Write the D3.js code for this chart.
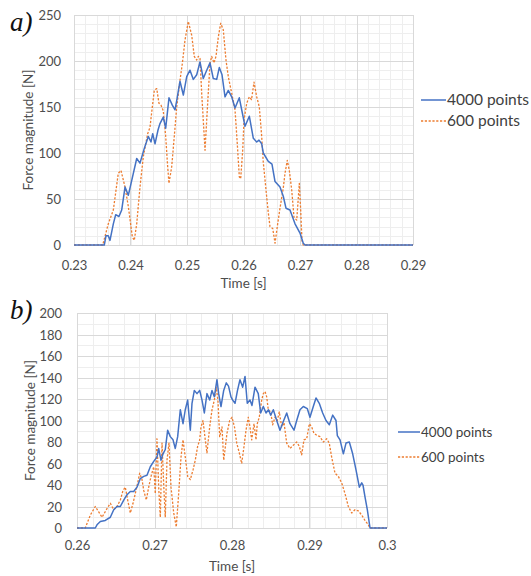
<!DOCTYPE html>
<html>
<head>
<meta charset="utf-8">
<script src="https://cdn.jsdelivr.net/npm/d3@7/dist/d3.min.js"></script>
<style>
  html, body { margin: 0; padding: 0; background: #fff; }
  svg { display: block; }
  .tick-label { font-family: Lato, "Open Sans", sans-serif; font-size: 13px; fill: #4d4d4d; }
  .axis-title { font-family: Lato, "Open Sans", sans-serif; font-size: 13.5px; fill: #4d4d4d; }
  .legend-text { font-family: Lato, "Open Sans", sans-serif; fill: #404040; }
  .panel-tag { font-family: "Liberation Serif", "DejaVu Serif", serif; font-style: italic; font-size: 27px; fill: #111; }
</style>
</head>
<body>
<svg id="chart" width="531" height="576"></svg>
<script>
// ---- Panel a): contact force, time [s] vs force [N] ----
const seriesNames = ["4000 points", "600 points"];

const aFine = [
  [0.23,0],[0.23536,0],[0.23566,10],[0.23607,10],[0.23637,5],[0.23696,23],[0.23738,33],
  [0.23796,31],[0.23844,38],[0.23903,63],[0.23961,54],[0.24021,70],[0.2411,94],[0.24168,89],
  [0.24244,105],[0.24315,118],[0.24363,112],[0.24393,121],[0.24434,110],[0.24487,125],
  [0.24522,132],[0.2458,139],[0.24623,127],[0.24681,160],[0.2474,152],[0.24788,147],
  [0.24818,157],[0.24876,178],[0.24935,163],[0.24995,183],[0.25053,190],[0.25112,180],
  [0.25172,185],[0.2523,199],[0.25288,181],[0.25349,190],[0.25407,198],[0.25465,181],
  [0.25526,180],[0.25572,193],[0.2562,185],[0.25673,161],[0.25731,168],[0.25791,161],
  [0.2585,149],[0.25926,160],[0.25968,147],[0.26027,129],[0.26103,140],[0.26174,116],
  [0.26234,112],[0.26274,114],[0.26322,110],[0.2635,100],[0.26439,91],[0.26504,88],
  [0.26558,69],[0.26646,63],[0.26704,53],[0.26752,40],[0.26823,38],[0.26912,23],
  [0.27,13],[0.27058,2],[0.27088,0],[0.29,0]
];

const aCoarse = [
  [0.23,0],[0.23508,0],[0.23607,23],[0.23696,38],[0.23784,78],[0.23832,81],[0.23903,63],
  [0.23961,42],[0.24032,9],[0.24067,5],[0.2411,23],[0.24168,63],[0.24227,96],[0.24269,110],
  [0.24304,121],[0.24345,128],[0.24386,150],[0.24421,168],[0.24464,170],[0.24504,154],
  [0.2454,152],[0.2458,146],[0.24623,118],[0.24658,85],[0.24681,67],[0.24729,85],
  [0.24775,118],[0.24818,150],[0.24876,179],[0.24917,197],[0.24965,223],[0.25023,243],
  [0.25083,228],[0.25129,205],[0.25172,201],[0.252,205],[0.2523,203],[0.2526,165],
  [0.25319,103],[0.25359,147],[0.25407,197],[0.25437,205],[0.25478,198],[0.25513,205],
  [0.25554,226],[0.25596,241],[0.25642,234],[0.2569,201],[0.25731,183],[0.25791,165],
  [0.2585,147],[0.2589,110],[0.25926,74],[0.2595,72],[0.25986,103],[0.26009,136],
  [0.26057,154],[0.26103,161],[0.26142,158],[0.26186,177],[0.26234,161],[0.2628,150],
  [0.26322,118],[0.2635,90],[0.26411,52],[0.26439,35],[0.26469,20],[0.26517,18],
  [0.26558,2],[0.26598,20],[0.26646,40],[0.26704,62],[0.26735,78],[0.26775,92],
  [0.26811,81],[0.26853,60],[0.26894,30],[0.26942,27],[0.26988,67],[0.27012,38],
  [0.27035,5],[0.27058,0],[0.29,0]
];

const aTimeTicks = [0.23, 0.24, 0.25, 0.26, 0.27, 0.28, 0.29];
const aForceTicks = [0, 50, 100, 150, 200, 250];

// ---- Panel b) ----
const bFine = [
  [0.26,0],[0.26236,0],[0.26258,3],[0.26301,6],[0.26365,7],[0.2643,10],[0.26474,17],
  [0.26516,20],[0.26559,20],[0.26603,26],[0.26645,31],[0.26688,34],[0.26732,34],
  [0.26774,38],[0.26817,46],[0.26861,48],[0.26903,49],[0.26946,57],[0.2699,62],
  [0.27032,66],[0.27054,74],[0.27084,63],[0.2711,69],[0.27139,73],[0.2717,91],
  [0.27204,85],[0.27239,82],[0.27268,74],[0.27299,85],[0.27333,110],[0.27368,97],
  [0.27397,110],[0.27428,119],[0.27462,91],[0.27484,116],[0.27514,128],[0.27548,125],
  [0.27583,128],[0.27613,119],[0.27643,107],[0.27677,125],[0.27712,119],[0.27742,128],
  [0.27772,122],[0.27806,138],[0.27828,125],[0.27858,113],[0.27893,128],[0.27926,135],
  [0.27955,132],[0.27987,122],[0.28009,119],[0.28039,116],[0.28071,128],[0.28103,138],
  [0.28138,131],[0.28168,141],[0.28197,116],[0.28232,119],[0.28258,114],[0.28297,131],
  [0.28339,125],[0.2837,107],[0.28404,113],[0.28439,107],[0.28471,110],[0.28499,105],
  [0.28533,110],[0.28577,100],[0.28619,91],[0.28662,99],[0.28706,107],[0.28748,97],
  [0.288,91],[0.28835,100],[0.28877,110],[0.2892,113],[0.28972,111],[0.29006,103],
  [0.29049,113],[0.29084,121],[0.29126,116],[0.2917,107],[0.29213,100],[0.29256,96],
  [0.29299,105],[0.29342,100],[0.29359,86],[0.29394,82],[0.29437,69],[0.29471,79],
  [0.29514,80],[0.29557,69],[0.296,54],[0.29643,38],[0.29674,42],[0.2969,40],
  [0.29716,29],[0.29746,17],[0.29781,0],[0.3,0]
];

const bCoarse = [
  [0.26,0],[0.26107,0],[0.26172,12],[0.26236,20],[0.2628,15],[0.26323,10],[0.26387,18],
  [0.2643,23],[0.26474,17],[0.26516,20],[0.26559,26],[0.26594,35],[0.26623,38],
  [0.26654,26],[0.26688,14],[0.26723,23],[0.26752,32],[0.26783,42],[0.26809,51],
  [0.26839,45],[0.26861,35],[0.26894,26],[0.26925,38],[0.26955,48],[0.2699,57],
  [0.2701,32],[0.27032,83],[0.27054,38],[0.27075,10],[0.27097,79],[0.27119,40],
  [0.27139,10],[0.27161,63],[0.27187,79],[0.27213,38],[0.27248,14],[0.27281,1],
  [0.27312,32],[0.27342,66],[0.27368,82],[0.27397,66],[0.27428,48],[0.27462,45],
  [0.27497,54],[0.27526,63],[0.27557,76],[0.27583,82],[0.276,94],[0.27626,100],
  [0.27655,82],[0.27677,70],[0.27712,94],[0.27742,110],[0.27772,119],[0.27797,131],
  [0.27819,118],[0.27841,85],[0.27871,94],[0.27893,63],[0.27935,88],[0.2797,100],
  [0.28,103],[0.28032,94],[0.28061,79],[0.28094,70],[0.28125,60],[0.28155,76],
  [0.28181,91],[0.2821,103],[0.28232,94],[0.28254,82],[0.28284,97],[0.2831,82],
  [0.28326,97],[0.28352,103],[0.28383,119],[0.28404,125],[0.28426,127],[0.28448,122],
  [0.28468,110],[0.28499,108],[0.28525,96],[0.28555,103],[0.28585,100],[0.2861,108],
  [0.28641,94],[0.28671,98],[0.28706,79],[0.28748,74],[0.28791,77],[0.28835,80],
  [0.28869,76],[0.28899,68],[0.28929,82],[0.28964,83],[0.28998,97],[0.29028,94],
  [0.29058,88],[0.29101,86],[0.29135,85],[0.29178,80],[0.29222,83],[0.29255,79],
  [0.29286,66],[0.29329,51],[0.29372,48],[0.29415,42],[0.29458,32],[0.29501,20],
  [0.29545,14],[0.29587,17],[0.2963,16],[0.29674,12],[0.29716,7],[0.29759,3],
  [0.29781,0],[0.3,0]
];

const bTimeTicks = [0.26, 0.27, 0.28, 0.29, 0.30];
const bForceTicks = [0, 20, 40, 60, 80, 100, 120, 140, 160, 180, 200];

const BLUE = "#4472c4";
const ORANGE = "#ed7d31";

const svg = d3.select("#chart");

function drawPanel(cfg) {
  const x = d3.scaleLinear().domain(cfg.xDomain).range([cfg.left, cfg.right]);
  const y = d3.scaleLinear().domain(cfg.yDomain).range([cfg.bottom, cfg.top]);
  const g = svg.append("g");

  // minor grid
  const xMinor = d3.range(cfg.xDomain[0], cfg.xDomain[1] + 1e-9, cfg.xMinorStep);
  const yMinor = d3.range(cfg.yDomain[0], cfg.yDomain[1] + 1e-9, cfg.yMinorStep);
  g.append("g").selectAll("line").data(xMinor).join("line")
    .attr("x1", d => Math.round(x(d)) + 0.5).attr("x2", d => Math.round(x(d)) + 0.5)
    .attr("y1", cfg.top).attr("y2", cfg.bottom)
    .attr("stroke", "#eeeeee").attr("stroke-width", 1);
  g.append("g").selectAll("line").data(yMinor).join("line")
    .attr("y1", d => Math.round(y(d)) + 0.5).attr("y2", d => Math.round(y(d)) + 0.5)
    .attr("x1", cfg.left).attr("x2", cfg.right)
    .attr("stroke", "#eeeeee").attr("stroke-width", 1);

  // major grid
  g.append("g").selectAll("line").data(cfg.xTicks).join("line")
    .attr("x1", d => Math.round(x(d)) + 0.5).attr("x2", d => Math.round(x(d)) + 0.5)
    .attr("y1", cfg.top).attr("y2", cfg.bottom)
    .attr("stroke", "#d9d9d9").attr("stroke-width", 1);
  g.append("g").selectAll("line").data(cfg.yTicks).join("line")
    .attr("y1", d => Math.round(y(d)) + 0.5).attr("y2", d => Math.round(y(d)) + 0.5)
    .attr("x1", cfg.left).attr("x2", cfg.right)
    .attr("stroke", "#d9d9d9").attr("stroke-width", 1);

  // axis tick labels via d3 axes (domain and tick lines hidden)
  const xAxis = d3.axisBottom(x).tickValues(cfg.xTicks).tickSize(0).tickPadding(0)
    .tickFormat(d => d3.format("~g")(+d.toFixed(3)));
  const xa = g.append("g").attr("transform", `translate(0,${cfg.bottom})`).call(xAxis);
  xa.select(".domain").remove();
  xa.selectAll("text").attr("class", "tick-label").attr("dy", null)
    .attr("y", cfg.xLabelY - cfg.bottom).attr("font-size", null).attr("font-family", null).attr("fill", null);

  const yAxis = d3.axisLeft(y).tickValues(cfg.yTicks).tickSize(0).tickPadding(0);
  const ya = g.append("g").attr("transform", `translate(${cfg.yLabelX},0)`).call(yAxis);
  ya.select(".domain").remove();
  ya.selectAll("text").attr("class", "tick-label").attr("dy", "0.35em")
    .attr("x", 0).attr("font-size", null).attr("font-family", null).attr("fill", null);
  ya.attr("text-anchor", "end").attr("font-size", null).attr("font-family", null);
  xa.attr("font-size", null).attr("font-family", null);

  // lines
  const line = d3.line().x(d => x(d[0])).y(d => y(d[1]));
  g.append("path").datum(cfg.coarse).attr("d", line)
    .attr("fill", "none").attr("stroke", ORANGE).attr("stroke-width", 1.3)
    .attr("stroke-dasharray", "2.2,1.6").attr("stroke-linejoin", "round");
  g.append("path").datum(cfg.fine).attr("d", line)
    .attr("fill", "none").attr("stroke", BLUE).attr("stroke-width", 1.5)
    .attr("stroke-linejoin", "round");

  // axis titles
  g.append("text").attr("class", "axis-title")
    .attr("x", (cfg.left + cfg.right) / 2).attr("y", cfg.xTitleY)
    .attr("text-anchor", "middle").text("Time [s]");
  g.append("text").attr("class", "axis-title")
    .attr("transform", `translate(${cfg.yTitleX},${(cfg.top + cfg.bottom) / 2}) rotate(-90)`)
    .attr("text-anchor", "middle").text("Force magnitude [N]");

  // panel tag
  g.append("text").attr("class", "panel-tag").attr("x", cfg.tagX).attr("y", cfg.tagY).text(cfg.tag);

  // legend
  const lg = g.append("g").attr("transform", `translate(${cfg.legendX},${cfg.legendY})`);
  const entries = [
    { name: seriesNames[0], color: BLUE, dash: null, w: 1.5 },
    { name: seriesNames[1], color: ORANGE, dash: "2.2,1.6", w: 1.3 }
  ];
  entries.forEach((e, i) => {
    const yy = i * cfg.legendGap;
    lg.append("line").attr("x1", 0).attr("x2", cfg.legendLine).attr("y1", yy).attr("y2", yy)
      .attr("stroke", e.color).attr("stroke-width", e.w).attr("stroke-dasharray", e.dash);
    lg.append("text").attr("class", "legend-text").attr("x", cfg.legendLine + 1).attr("y", yy)
      .attr("dy", "0.35em").attr("font-size", cfg.legendSize).text(e.name);
  });
}

drawPanel({
  xDomain: [0.23, 0.29], yDomain: [0, 250],
  left: 74, right: 413, top: 15, bottom: 245,
  xTicks: aTimeTicks, yTicks: aForceTicks, xMinorStep: 0.002, yMinorStep: 10,
  fine: aFine, coarse: aCoarse,
  xLabelY: 270, yLabelX: 61, xTitleY: 288, yTitleX: 33,
  tag: "a)", tagX: 10, tagY: 31,
  legendX: 421, legendY: 100, legendGap: 21, legendLine: 25, legendSize: 15.5
});

drawPanel({
  xDomain: [0.26, 0.30], yDomain: [0, 200],
  left: 77, right: 387, top: 313, bottom: 528,
  xTicks: bTimeTicks, yTicks: bForceTicks, xMinorStep: 0.002, yMinorStep: 10,
  fine: bFine, coarse: bCoarse,
  xLabelY: 550, yLabelX: 62, xTitleY: 571, yTitleX: 35,
  tag: "b)", tagX: 10, tagY: 319,
  legendX: 398, legendY: 432, legendGap: 25, legendLine: 22, legendSize: 13.5
});
</script>
</body>
</html>
